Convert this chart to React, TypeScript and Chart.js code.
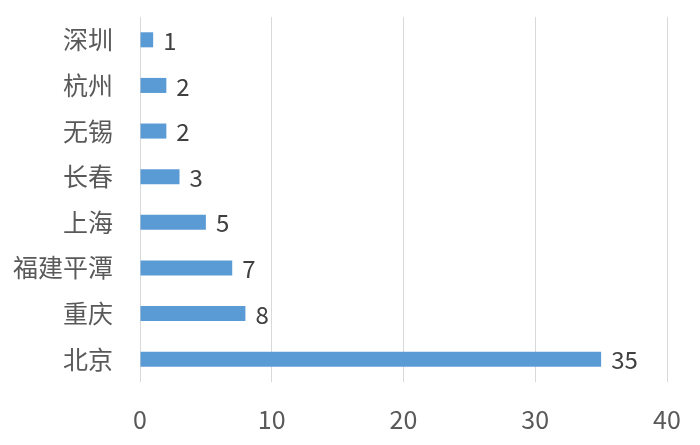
import React, { useEffect, useRef } from "react";
import { Chart, registerables } from "chart.js";

Chart.register(...registerables);

const categories = ["深圳", "杭州", "无锡", "长春", "上海", "福建平潭", "重庆", "北京"];
const values = [1, 2, 2, 3, 5, 7, 8, 35];
const xTicks = [0, 10, 20, 30, 40];

const FONT = "'Noto Sans CJK SC', 'Noto Sans', sans-serif";

const valueLabels = {
  id: "valueLabels",
  afterDatasetsDraw(chart: any) {
    const ctx = chart.ctx;
    const meta = chart.getDatasetMeta(0);
    ctx.save();
    ctx.font = `24px ${FONT}`;
    ctx.fillStyle = "#404040";
    ctx.textAlign = "left";
    ctx.textBaseline = "middle";
    meta.data.forEach((bar: any, i: number) => {
      ctx.fillText(String(values[i]), bar.x + 10, bar.y + 1);
    });
    ctx.restore();
  },
};

export default function App() {
  const ref = useRef<HTMLCanvasElement | null>(null);
  useEffect(() => {
    if (!ref.current) return;
    const chart = new Chart(ref.current, {
      type: "bar",
      data: {
        labels: categories,
        datasets: [
          {
            data: values,
            backgroundColor: "#5B9BD5",
            barPercentage: 0.33,
            categoryPercentage: 1,
          },
        ],
      },
      options: {
        indexAxis: "y",
        animation: false,
        responsive: true,
        maintainAspectRatio: false,
        layout: { padding: { top: 17, right: 33, left: 0, bottom: 0 } },
        plugins: { legend: { display: false }, tooltip: { enabled: false } },
        scales: {
          x: {
            min: 0,
            max: 40,
            afterBuildTicks(scale: any) {
              scale.ticks = xTicks.map((v) => ({ value: v }));
            },
            grid: { color: "#d9d9d9", drawTicks: false, lineWidth: 1 },
            border: { display: false },
            ticks: {
              color: "#595959",
              font: { size: 25, family: FONT },
              padding: 22,
            },
            afterFit(scale: any) {
              scale.height = 445 - 382;
              scale.paddingLeft = 0;
              scale.paddingRight = 0;
            },
          },
          y: {
            grid: { display: false, drawTicks: false },
            border: { display: false },
            ticks: {
              color: "#595959",
              font: { size: 25, family: FONT },
              padding: 27,
            },
            afterFit(scale: any) {
              scale.width = 140;
              scale.paddingTop = 0;
              scale.paddingBottom = 0;
            },
          },
        },
      },
      plugins: [valueLabels],
    });
    return () => chart.destroy();
  }, []);
  return (
    <div style={{ position: "fixed", left: 0, top: 0, width: 700, height: 445, background: "#fff" }}>
      <canvas ref={ref} />
    </div>
  );
}
